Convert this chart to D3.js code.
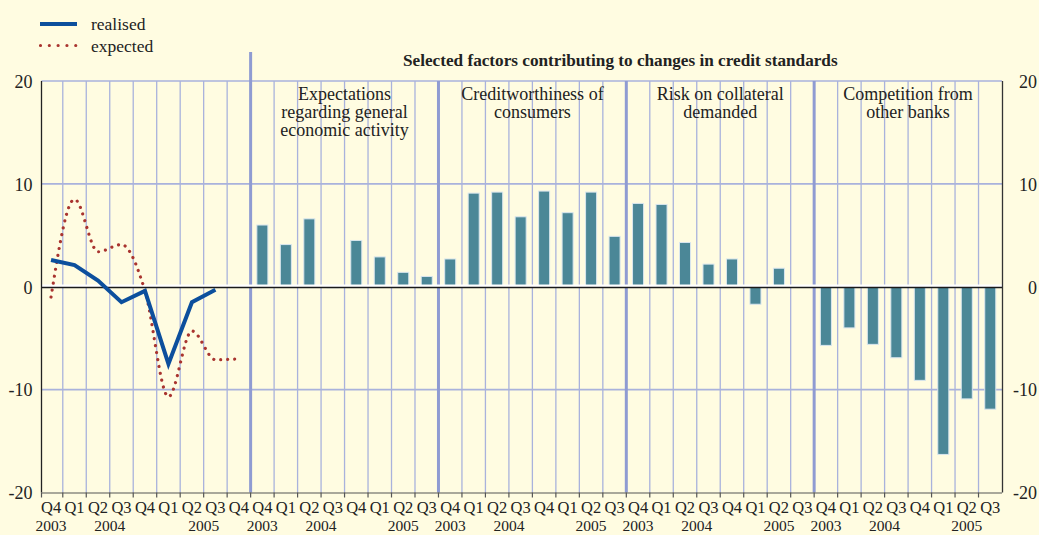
<!DOCTYPE html>
<html>
<head>
<meta charset="utf-8">
<script src="https://cdn.jsdelivr.net/npm/d3@7"></script>
<style>
  html, body { margin: 0; padding: 0; background: #fffce1; }
  svg { display: block; }
  text { font-family: "Liberation Serif", "Times New Roman", serif; fill: #222; }
</style>
</head>
<body>
<svg id="chart" width="1039" height="535"></svg>
<script>
// ---------------- data ----------------
const leftQuarters = ["Q4 2003","Q1 2004","Q2 2004","Q3 2004","Q4 2004","Q1 2005","Q2 2005","Q3 2005","Q4 2005"];
const panelQuarters = ["Q4 2003","Q1 2004","Q2 2004","Q3 2004","Q4 2004","Q1 2005","Q2 2005","Q3 2005"];

const realised = [2.6, 2.1, 0.6, -1.5, -0.4, -7.5, -1.5, -0.3];
const expected = [-1.0, 8.5, 3.4, 4.1, -0.4, -10.7, -4.3, -7.1, -7.0];

const factorNames = [
  ["Expectations", "regarding general", "economic activity"],
  ["Creditworthiness of", "consumers"],
  ["Risk on collateral", "demanded"],
  ["Competition from", "other banks"]
];
const expectationsActivity = [6.0, 4.1, 6.6, -0.1, 4.5, 2.9, 1.4, 1.0];
const creditworthiness     = [2.7, 9.1, 9.2, 6.8, 9.3, 7.2, 9.2, 4.9];
const collateralRisk       = [8.1, 8.0, 4.3, 2.2, 2.7, -1.7, 1.8, null];
const competition          = [-5.7, -4.0, -5.6, -6.9, -9.1, -16.3, -10.9, -11.9];
const factorValues = [expectationsActivity, creditworthiness, collateralRisk, competition];

const yTicks = [-20, -10, 0, 10, 20];
const title = "Selected factors contributing to changes in credit standards";
const legendLabels = ["realised", "expected"];

// ---------------- build columns ----------------
const columns = [];
leftQuarters.forEach((q, i) => columns.push({key: "L" + i, q: q.split(" ")[0], year: q.split(" ")[1], panel: 0}));
factorValues.forEach((vals, p) => {
  panelQuarters.forEach((q, i) => columns.push({key: "P" + p + "_" + i, q: q.split(" ")[0], year: q.split(" ")[1], panel: p + 1, value: vals[i]}));
});

// ---------------- scales ----------------
const svg = d3.select("#chart");
const plotTop = 81, plotBottom = 492.5;
const x = d3.scaleBand().domain(columns.map(d => d.key)).range([39.3, 1002]).padding(0);
const bw = x.bandwidth();
const y = d3.scaleLinear().domain([-20, 20]).range([plotBottom, plotTop]);
const cx = k => x(k) + bw / 2;

const gridColor = "#a9b2dc";
const sepColor = "#8f9bd2";

const panelStarts = [];
columns.forEach((c, i) => { if (i === 0 || columns[i-1].panel !== c.panel) panelStarts.push(i); });

// ---------------- grid ----------------
const g = svg.append("g");
g.selectAll("line.hgrid").data([10, -10, 20]).join("line")
  .attr("x1", 41.5).attr("x2", 1002)
  .attr("y1", d => y(d)).attr("y2", d => y(d))
  .attr("stroke", gridColor).attr("stroke-width", 1.6);

const boundaries = d3.range(1, columns.length).map(i => ({i, pos: x(columns[i].key), sep: panelStarts.includes(i)}));
g.selectAll("line.vgrid").data(boundaries).join("line")
  .attr("x1", d => d.pos).attr("x2", d => d.pos)
  .attr("y1", d => (d.i === panelStarts[1] ? 52 : plotTop))
  .attr("y2", plotBottom)
  .attr("stroke", d => d.sep ? sepColor : gridColor)
  .attr("stroke-width", d => d.sep ? 3 : 1.3);

// ---------------- bars ----------------
const barCols = columns.filter(c => c.panel > 0 && c.value !== null && c.value !== undefined);
const barW = bw * 0.47;
g.selectAll("rect.bar").data(barCols).join("rect")
  .attr("x", d => cx(d.key) - barW / 2)
  .attr("width", barW)
  .attr("y", d => Math.min(y(d.value), y(0)))
  .attr("height", d => Math.max(0.8, Math.abs(y(d.value) - y(0))))
  .attr("fill", "#4b8797")
  .attr("stroke", "#d9e6ee").attr("stroke-width", 1);

// ---------------- zero line ----------------
g.append("line").attr("x1", 41.5).attr("x2", 1002).attr("y1", y(0) - 1).attr("y2", y(0) - 1)
  .attr("stroke", "#ffffff").attr("stroke-width", 2.5);
g.append("line").attr("x1", 41.5).attr("x2", 1002).attr("y1", y(0) + 0.7).attr("y2", y(0) + 0.7)
  .attr("stroke", "#1a1a1a").attr("stroke-width", 1.6);

// ---------------- lines (left panel) ----------------
const leftKeys = columns.filter(c => c.panel === 0).map(c => c.key);
const realLine = d3.line().x((d, i) => cx(leftKeys[i])).y(d => y(d));
const expLine = d3.line().x((d, i) => cx(leftKeys[i])).y(d => y(d)).curve(d3.curveMonotoneX);

g.append("path").attr("d", expLine(expected))
  .attr("fill", "none").attr("stroke", "#a9342f").attr("stroke-width", 3.2)
  .attr("stroke-linecap", "round").attr("stroke-dasharray", "0.01 7");
g.append("path").attr("d", realLine(realised))
  .attr("fill", "none").attr("stroke", "#0c4f9d").attr("stroke-width", 4)
  .attr("stroke-linejoin", "miter");

// ---------------- axes ----------------
g.append("line").attr("x1", 41.5).attr("x2", 41.5).attr("y1", plotTop).attr("y2", plotBottom)
  .attr("stroke", "#222").attr("stroke-width", 1.3);
g.append("line").attr("x1", 1002.5).attr("x2", 1002.5).attr("y1", plotTop).attr("y2", plotBottom)
  .attr("stroke", "#333").attr("stroke-width", 1.3);

const fmt = d => String(d);
const yl = svg.append("g").attr("transform", "translate(41.5,0)")
  .call(d3.axisLeft(y).tickValues(yTicks).tickSize(0).tickPadding(9).tickFormat(fmt));
yl.select(".domain").remove();
yl.selectAll("text").attr("font-size", 18).style("font-family", "Liberation Serif").attr("fill", "#222").attr("dy", "0.35em");

const yr = svg.append("g").attr("transform", "translate(1002.5,0)")
  .call(d3.axisRight(y).tickValues(yTicks).tickSize(0).tickPadding(0).tickFormat(fmt));
yr.select(".domain").remove();
yr.selectAll("text").attr("font-size", 18).style("font-family", "Liberation Serif").attr("fill", "#222")
  .attr("text-anchor", "end").attr("x", 34.5).attr("dy", "0.35em");

// bottom axis
svg.append("line").attr("x1", 41.5).attr("x2", 1002).attr("y1", plotBottom + 0.5).attr("y2", plotBottom + 0.5)
  .attr("stroke", "#555").attr("stroke-width", 1.2);
svg.selectAll("line.xtick").data(d3.range(0, columns.length)).join("line")
  .attr("x1", i => x(columns[i].key) + (i === 0 ? 2.2 : 0))
  .attr("x2", i => x(columns[i].key) + (i === 0 ? 2.2 : 0))
  .attr("y1", plotBottom).attr("y2", plotBottom + 5)
  .attr("stroke", "#555").attr("stroke-width", 1.2);

const xb = svg.append("g").attr("transform", `translate(0,${plotBottom})`)
  .call(d3.axisBottom(x).tickSize(0).tickPadding(9).tickFormat(k => columns.find(c => c.key === k).q));
xb.select(".domain").remove();
xb.selectAll("text").attr("font-size", 16.5).style("font-family", "Liberation Serif").attr("fill", "#222");

// year labels
const yearGroups = d3.groups(columns, c => c.panel, c => c.year);
const yearLabels = [];
yearGroups.forEach(([p, yrs]) => yrs.forEach(([yrLabel, cols]) => {
  const a = cx(cols[0].key), b = cx(cols[cols.length - 1].key);
  yearLabels.push({label: yrLabel, pos: (a + b) / 2});
}));
svg.selectAll("text.year").data(yearLabels).join("text")
  .attr("x", d => d.pos).attr("y", 530.5).attr("text-anchor", "middle")
  .attr("font-size", 15.5).text(d => d.label);

// ---------------- titles ----------------
const panelCenters = d3.range(1, 5).map(p => {
  const cols = columns.filter(c => c.panel === p);
  return (x(cols[0].key) + x(cols[cols.length - 1].key) + bw) / 2;
});
factorNames.forEach((lines, p) => {
  const t = svg.append("text").attr("x", panelCenters[p]).attr("y", 100)
    .attr("text-anchor", "middle").attr("font-size", 18);
  lines.forEach((ln, i) => t.append("tspan").attr("x", panelCenters[p]).attr("dy", i === 0 ? 0 : 18).text(ln));
});

const firstP = columns.find(c => c.panel === 1);
svg.append("text").attr("x", (x(firstP.key) + 1002) / 2 - 6).attr("y", 66)
  .attr("text-anchor", "middle").attr("font-size", 17.2).attr("font-weight", "bold").text(title);

// ---------------- legend ----------------
const lg = svg.append("g");
lg.append("line").attr("x1", 40).attr("x2", 77).attr("y1", 24).attr("y2", 24)
  .attr("stroke", "#0c4f9d").attr("stroke-width", 4);
lg.append("line").attr("x1", 40.5).attr("x2", 76).attr("y1", 45.5).attr("y2", 45.5)
  .attr("stroke", "#a9342f").attr("stroke-width", 3.2).attr("stroke-linecap", "round")
  .attr("stroke-dasharray", "0.01 8.8");
lg.selectAll("text").data(legendLabels).join("text")
  .attr("x", 91).attr("y", (d, i) => 30 + i * 21.5).attr("font-size", 17.5).text(d => d);
</script>
</body>
</html>
